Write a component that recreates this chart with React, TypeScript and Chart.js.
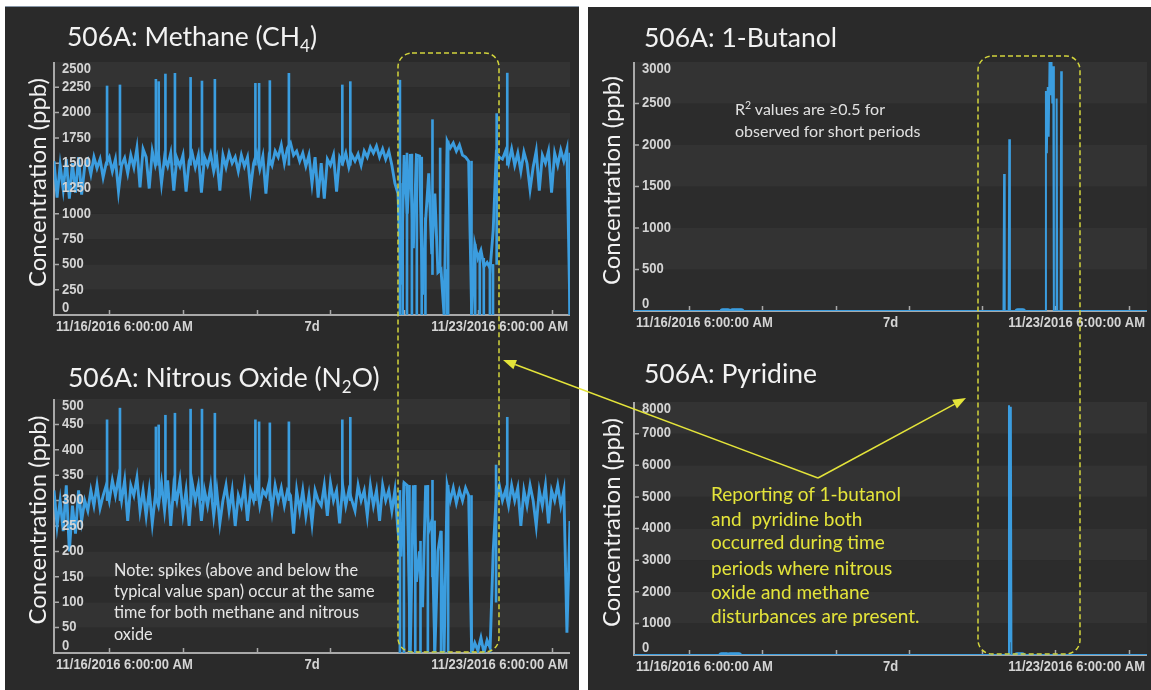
import React, { useEffect, useRef } from "react";
import { Chart, registerables } from "chart.js";

Chart.register(...registerables);

// ---------------- shared axis data ----------------
const X_SPAN_HOURS = 168; // 11/16/2016 6:00 AM -> 11/23/2016 6:00 AM
const X_TICK_HOURS = [18, 42, 66, 90, 114, 138, 162]; // midnights
const X_LABELS = ["11/16/2016 6:00:00 AM", "7d", "11/23/2016 6:00:00 AM"];
const Y_TITLE = "Concentration (ppb)";

const METHANE_TICKS = [0, 250, 500, 750, 1000, 1250, 1500, 1750, 2000, 2250, 2500];
const N2O_TICKS = [0, 50, 100, 150, 200, 250, 300, 350, 400, 450, 500];
const BUTANOL_TICKS = [0, 500, 1000, 1500, 2000, 2500, 3000];
const PYRIDINE_TICKS = [0, 1000, 2000, 3000, 4000, 5000, 6000, 7000, 8000];

// ---------------- methane (hourly readings, hour 0..168) ----------------
const methaneHourly = [
  1520, 1160, 1480, 1240, 1540, 1150, 1500, 1210, 1560, 1190,
  1470, 1530, 1390, 1560, 1450, 1540, 1360, 1500, 1560, 1420,
  1540, 1220, 1480, 1550, 1400, 1580, 1460, 1650, 1260, 1640,
  1560, 1250, 1620, 1480, 1600, 1300, 1560, 1470, 1600, 1230,
  1550, 1470, 1580, 1220, 1520, 1600, 1460, 1580, 1210, 1560,
  1480, 1590, 1420, 1550, 1230, 1580, 1460, 1600, 1500, 1560,
  1420, 1580, 1470, 1560, 1250, 1500, 1600, 1440, 1570, 1200,
  1560, 1480, 1620, 1560, 1680, 1500, 1650, 1700, 1580, 1620,
  1520, 1600, 1470, 1580, 1300, 1560, 1160, 1500, 1150, 1540,
  1480, 1580, 1220, 1560, 1500, 1600, 1460, 1580, 1520, 1590,
  1480, 1620, 1560, 1660, 1600, 1670, 1560, 1640, 1540, 1620,
  1480, 1300, 1200, 300, 1580, 1000, 1590, 660, 1580, 1570,
  200, 940, 1400, 600, 1200, 420, 450, 0, 1720, 1650,
  1700, 1620, 1680, 1580, 1560, 1520, 0, 700, 560, 640,
  480, 520, 460, 840, 1600, 1560, 1540, 1620, 1500, 1640,
  1480, 1600, 1420, 1610, 1500, 1240, 1460, 1620, 1230, 1580,
  1500, 1620, 1210, 1600, 1480, 1630, 1520, 1640, 0,
];
// short spikes that occur at the same time in methane and nitrous oxide
const spikeHours = [17.6, 21.8, 33.5, 34.4, 36.6, 39.7, 44.8, 48.5, 52.7, 65.9, 67.1, 70.6, 76.8, 94.2, 96.8, 147.9];
const methaneSpikeBase = 1480;
const methaneSpikePeaks = [2263, 2273, 2329, 2306, 2381, 2388, 2348, 2312, 2329, 2289, 2289, 2316, 2388, 2273, 2306, 2390];
// abrupt excursions during the disturbance period
const methaneJumpHours = [112.3, 113.2, 114.6, 116.2, 117.8, 119.4, 120.6, 122.9, 125.4, 127.6, 128.0, 135.6, 136.8, 138.3, 139.6, 141.6, 142.6, 143.8, 167.6];
const methaneJumpLow = [0, 0, 0, 0, 0, 0, 0, 400, 450, 0, 0, 0, 0, 0, 0, 0, 0, 500, 0];
const methaneJumpHigh = [2320, 1300, 1600, 1590, 1550, 1560, 960, 1930, 1650, 450, 1720, 1520, 700, 600, 560, 520, 500, 1990, 1600];

// ---------------- nitrous oxide (hourly readings) ----------------
const n2oHourly = [
  320, 250, 300, 240, 330, 200, 290, 235, 320, 260,
  300, 280, 320, 290, 330, 285, 310, 330, 300, 340,
  310, 345, 300, 340, 260, 330, 310, 345, 280, 320,
  270, 320, 255, 310, 290, 335, 280, 340, 250, 330,
  300, 340, 275, 320, 250, 335, 300, 330, 260, 320,
  290, 330, 270, 320, 255, 300, 330, 280, 320, 250,
  310, 290, 330, 260, 320, 300, 335, 290, 320, 310,
  335, 280, 330, 300, 325, 290, 320, 310, 235, 320,
  280, 320, 270, 310, 255, 320, 300, 290, 330, 270,
  335, 300, 320, 255, 330, 290, 320, 300, 280, 330,
  300, 320, 270, 330, 290, 320, 260, 330, 300, 320,
  280, 320, 240, 190, 335, 330, 0, 330, 140, 200,
  90, 330, 240, 260, 0, 200, 240, 0, 330, 300,
  325, 295, 320, 300, 325, 310, 0, 20, 5, 30,
  0, 25, 10, 200, 310, 330, 300, 320, 290, 330,
  300, 325, 250, 320, 290, 330, 300, 250, 320, 290,
  330, 255, 320, 300, 330, 290, 320, 40, 260,
];
const n2oSpikeBase = 300;
const n2oSpikePeaks = [459, 482, 445, 449, 468, 472, 480, 480, 472, 459, 455, 453, 455, 459, 464, 464];
const n2oJumpHours = [112.3, 113.6, 115.4, 117.3, 119.0, 121.4, 122.9, 123.6, 125.7, 128.0, 135.6, 143.6];
const n2oJumpLow = [0, 0, 0, 0, 0, 0, 150, 0, 0, 0, 0, 100];
const n2oJumpHigh = [320, 335, 330, 330, 220, 330, 340, 260, 240, 330, 310, 370];

// ---------------- 1-butanol ----------------
const butanolHours = [0, 121.0, 121.2, 121.4, 122.7, 122.9, 123.1, 134.7, 134.9, 135.2, 135.5, 135.8, 136.1, 136.4, 136.7, 137.0, 137.3, 137.5, 138.2, 138.4, 138.6, 139.7, 139.9, 140.1, 168];
const butanolValues = [0, 0, 1650, 0, 0, 2070, 0, 0, 2650, 1900, 2700, 2100, 3050, 2600, 3050, 2500, 2950, 0, 0, 2560, 0, 0, 2890, 0, 0];
const butanolZeroReadingHours = [29.0, 29.6, 30.2, 30.8, 32.2, 32.8, 33.4, 34.0, 34.6, 35.2, 125.6, 126.2, 126.8, 127.4];

// ---------------- pyridine ----------------
const pyridineHours = [0, 122.6, 122.8, 123.1, 123.4, 123.6, 168];
const pyridineValues = [0, 0, 7900, 400, 7850, 0, 0];
const pyridineZeroReadingHours = [28.6, 29.2, 29.8, 30.4, 31.4, 32.0, 32.6, 33.2, 33.8, 34.4, 125.4, 126.0, 126.6, 127.2];

// ---------------- styles ----------------
const BLUE = "#3b9ddf";
const PANEL_BG = "#2a2a2a";
const BAND_DARK = "#2c2c2c";
const BAND_LIGHT = "#333333";
const AXIS_COLOR = "#a9a9a9";
const TICK_TEXT = "#d4d4d4";
const TITLE_TEXT = "#f2f2f2";
const YELLOW = "#e4e43a";
const DASH_YELLOW = "#d2d43c";
const TICK_FONT = 'bold 14px "Liberation Sans", Arial, sans-serif';
const NARROW = 0.93;

function makeAxesPlugin(yTicks: number[], titleX: number) {
  return {
    id: "panelAxes",
    beforeDatasetsDraw(chart: any) {
      const { ctx, chartArea: a, scales } = chart;
      const xs = scales.x;
      const ys = scales.y;
      ctx.save();
      for (let i = 0; i < yTicks.length - 1; i++) {
        const p0 = ys.getPixelForValue(yTicks[i]);
        const p1 = ys.getPixelForValue(yTicks[i + 1]);
        ctx.fillStyle = i % 2 === 0 ? BAND_DARK : BAND_LIGHT;
        ctx.fillRect(a.left, p1, a.right - a.left, p0 - p1);
      }
      ctx.strokeStyle = AXIS_COLOR;
      ctx.lineWidth = 2;
      ctx.beginPath();
      ctx.moveTo(a.left, a.top);
      ctx.lineTo(a.left, a.bottom);
      ctx.lineTo(a.right, a.bottom);
      ctx.stroke();
      ctx.lineWidth = 1.5;
      ctx.beginPath();
      X_TICK_HOURS.forEach((h) => {
        const px = Math.round(xs.getPixelForValue(h)) + 0.5;
        ctx.moveTo(px, a.bottom);
        ctx.lineTo(px, a.bottom - 5);
      });
      yTicks.slice(1, -1).forEach((v) => {
        const py = ys.getPixelForValue(v);
        ctx.moveTo(a.left, py);
        ctx.lineTo(a.left + 5, py);
      });
      ctx.stroke();
      ctx.restore();
    },
    afterDatasetsDraw(chart: any) {
      const { ctx, chartArea: a, scales } = chart;
      const xs = scales.x;
      const ys = scales.y;
      ctx.save();
      ctx.fillStyle = TICK_TEXT;
      ctx.font = TICK_FONT;
      ctx.textBaseline = "middle";
      const draw = (t: string, x: number, y: number, align: string) => {
        ctx.save();
        ctx.translate(x, y);
        ctx.scale(NARROW, 1);
        ctx.textAlign = align;
        ctx.fillText(t, 0, 0);
        ctx.restore();
      };
      yTicks.forEach((v) => {
        const py = ys.getPixelForValue(v);
        const ly = Math.min(Math.max(py, a.top + 7), a.bottom - 7);
        draw(String(v), a.left + 8, ly, "left");
      });
      const xy = a.bottom + 12;
      draw(X_LABELS[0], a.left + 2, xy, "left");
      draw(X_LABELS[1], xs.getPixelForValue(X_SPAN_HOURS / 2), xy, "center");
      draw(X_LABELS[2], a.right - 2, xy, "right");
      // axis title
      ctx.fillStyle = TITLE_TEXT;
      ctx.font = '24px Lato, "Open Sans", sans-serif';
      ctx.translate(titleX, (a.top + a.bottom) / 2 - 6);
      ctx.rotate(-Math.PI / 2);
      ctx.textAlign = "center";
      ctx.textBaseline = "middle";
      ctx.fillText(Y_TITLE, 0, 0);
      ctx.restore();
    },
  };
}

function lineFromHourly(values: number[]) {
  return {
    type: "line",
    data: values.map((v, i) => ({ x: i, y: v })),
    borderColor: BLUE,
    borderWidth: 2.9,
    pointRadius: 0,
    tension: 0,
  };
}

function lineFromPairs(hours: number[], values: number[]) {
  return {
    type: "line",
    data: hours.map((h, i) => ({ x: h, y: values[i] })),
    borderColor: BLUE,
    borderWidth: 2,
    pointRadius: 0,
    tension: 0,
  };
}

function floatingBars(hours: number[], lows: number[], highs: number[]) {
  return {
    type: "bar",
    data: hours.map((h, i) => ({ x: h, y: [lows[i], highs[i]] })),
    backgroundColor: BLUE,
    borderWidth: 0,
    barThickness: 2,
  };
}

function zeroMarks(hours: number[]) {
  return {
    type: "line",
    data: hours.map((h) => ({ x: h, y: 0 })),
    showLine: false,
    pointRadius: 2.8,
    pointBorderWidth: 0,
    pointBackgroundColor: BLUE,
  };
}

function buildConfig(datasets: any[], yTicks: number[], padding: any, titleX: number) {
  return {
    type: "line",
    data: { datasets },
    options: {
      responsive: false,
      animation: false,
      events: [],
      layout: { padding },
      scales: {
        x: { type: "linear", min: 0, max: X_SPAN_HOURS, display: false, offset: false },
        y: { type: "linear", min: yTicks[0], max: yTicks[yTicks.length - 1], display: false },
      },
      plugins: { legend: { display: false }, tooltip: { enabled: false }, title: { display: false } },
    },
    plugins: [makeAxesPlugin(yTicks, titleX)],
  };
}

function ChartCanvas(props: { left: number; top: number; width: number; height: number; make: () => any }) {
  const ref = useRef<HTMLCanvasElement | null>(null);
  useEffect(() => {
    if (!ref.current) return;
    const chart = new Chart(ref.current, props.make());
    return () => chart.destroy();
  }, []);
  return (
    <canvas
      ref={ref}
      width={props.width}
      height={props.height}
      style={{ position: "absolute", left: props.left, top: props.top, width: props.width, height: props.height }}
    />
  );
}

function arrowHead(x1: number, y1: number, x2: number, y2: number, len: number, half: number) {
  const dx = x2 - x1;
  const dy = y2 - y1;
  const d = Math.hypot(dx, dy);
  const ux = dx / d;
  const uy = dy / d;
  const bx = x2 - ux * len;
  const by = y2 - uy * len;
  const nx = -uy;
  const ny = ux;
  return {
    base: [bx, by],
    points: `${x2},${y2} ${bx + nx * half},${by + ny * half} ${bx - nx * half},${by - ny * half}`,
  };
}

export default function App() {
  const methaneSets = () => [
    lineFromHourly(methaneHourly),
    floatingBars(spikeHours, spikeHours.map(() => methaneSpikeBase), methaneSpikePeaks),
    floatingBars(methaneJumpHours, methaneJumpLow, methaneJumpHigh),
  ];
  const n2oSets = () => [
    lineFromHourly(n2oHourly),
    floatingBars(spikeHours, spikeHours.map(() => n2oSpikeBase), n2oSpikePeaks),
    floatingBars(n2oJumpHours, n2oJumpLow, n2oJumpHigh),
  ];
  const butanolSets = () => [lineFromPairs(butanolHours, butanolValues), zeroMarks(butanolZeroReadingHours)];
  const pyridineSets = () => [lineFromPairs(pyridineHours, pyridineValues), zeroMarks(pyridineZeroReadingHours)];

  const vx = 818, vy = 478;
  const leftTip = arrowHead(vx, vy, 503, 360, 13, 5);
  const rightTip = arrowHead(vx, vy, 966, 398, 13, 5);

  const font = "Lato, 'Open Sans', sans-serif";
  const titleStyle = { fontFamily: font, fontSize: 26.5, fill: TITLE_TEXT } as any;
  const noteStyle = { fontFamily: font, fontSize: 16.3, fill: "#e6e6e6" } as any;
  const r2Style = { fontFamily: font, fontSize: 16, fill: "#e0e0e0" } as any;
  const yellowStyle = { fontFamily: font, fontSize: 19, fill: YELLOW, whiteSpace: "pre" } as any;

  return (
    <div style={{ position: "absolute", left: 0, top: 0, width: 1151, height: 690, background: "#ffffff", overflow: "hidden" }}>
      <div style={{ position: "absolute", left: 5, top: 7, width: 574, height: 683, background: PANEL_BG }} />
      <div style={{ position: "absolute", left: 5, top: 6, width: 574, height: 1, background: "#8796a6" }} />
      <div style={{ position: "absolute", left: 588, top: 7, width: 563, height: 683, background: PANEL_BG }} />

      <ChartCanvas left={5} top={7} width={574} height={338}
        make={() => buildConfig(methaneSets(), METHANE_TICKS, { left: 49, right: 9, top: 55, bottom: 30 }, 33)} />
      <ChartCanvas left={5} top={345} width={574} height={345}
        make={() => buildConfig(n2oSets(), N2O_TICKS, { left: 49, right: 9, top: 54, bottom: 37 }, 33)} />
      <ChartCanvas left={588} top={7} width={563} height={338}
        make={() => buildConfig(butanolSets(), BUTANOL_TICKS, { left: 46, right: 1, top: 55, bottom: 34 }, 24)} />
      <ChartCanvas left={588} top={345} width={563} height={345}
        make={() => buildConfig(pyridineSets(), PYRIDINE_TICKS, { left: 46, right: 1, top: 57, bottom: 35 }, 24)} />

      <svg width={1151} height={690} style={{ position: "absolute", left: 0, top: 0, pointerEvents: "none" }}>
        <text x={67} y={46} style={titleStyle}>
          506A: Methane (CH<tspan fontSize={17} dy={6}>4</tspan><tspan dy={-6}>)</tspan>
        </text>
        <text x={68} y={387} style={titleStyle}>
          506A: Nitrous Oxide (N<tspan fontSize={17} dy={6}>2</tspan><tspan dy={-6}>O)</tspan>
        </text>
        <text x={644} y={47} style={titleStyle}>506A: 1-Butanol</text>
        <text x={644} y={383} style={titleStyle}>506A: Pyridine</text>

        <text x={735} y={115} style={r2Style}>
          R<tspan fontSize={10.5} dy={-6}>2</tspan><tspan dy={6}> values are ≥0.5 for</tspan>
        </text>
        <text x={735} y={137} style={r2Style}>observed for short periods</text>

        <text x={114} y={576} style={noteStyle}>Note: spikes (above and below the</text>
        <text x={114} y={597} style={noteStyle}>typical value span) occur at the same</text>
        <text x={114} y={618} style={noteStyle}>time for both methane and nitrous</text>
        <text x={114} y={640} style={noteStyle}>oxide</text>

        <text x={711} y={501} style={yellowStyle}>Reporting of 1-butanol</text>
        <text x={711} y={526} style={yellowStyle}>and  pyridine both</text>
        <text x={711} y={549} style={yellowStyle}>occurred during time</text>
        <text x={711} y={575} style={yellowStyle}>periods where nitrous</text>
        <text x={711} y={599} style={yellowStyle}>oxide and methane</text>
        <text x={711} y={623} style={yellowStyle}>disturbances are present.</text>

        <rect x={398} y={53} width={101} height={599} rx={14} fill="none" stroke={DASH_YELLOW} strokeWidth={1.5} strokeDasharray="5 3" />
        <rect x={978} y={56} width={102} height={598} rx={14} fill="none" stroke={DASH_YELLOW} strokeWidth={1.5} strokeDasharray="5 3" />

        <line x1={vx} y1={vy} x2={leftTip.base[0]} y2={leftTip.base[1]} stroke={YELLOW} strokeWidth={1.5} />
        <polygon points={leftTip.points} fill={YELLOW} />
        <line x1={vx} y1={vy} x2={rightTip.base[0]} y2={rightTip.base[1]} stroke={YELLOW} strokeWidth={1.5} />
        <polygon points={rightTip.points} fill={YELLOW} />
      </svg>
    </div>
  );
}
